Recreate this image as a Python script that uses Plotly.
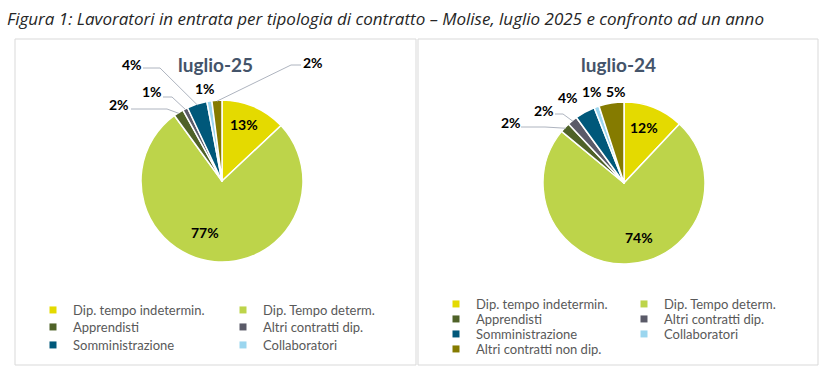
import math
import plotly.graph_objects as go

# ---------------- data ----------------
categories = ["Dip. tempo indetermin.", "Dip. Tempo determ.", "Apprendisti",
              "Altri contratti dip.", "Somministrazione", "Collaboratori",
              "Altri contratti non dip."]
values_2025 = [13, 77, 2, 1, 4, 1, 2]
values_2024 = [12, 74, 2, 2, 4, 1, 5]
title_2025 = "luglio-25"
title_2024 = "luglio-24"
fig_title = "Figura 1: Lavoratori in entrata per tipologia di contratto – Molise, luglio 2025 e confronto ad un anno"

# ---------------- style ----------------
colors = ["#E4DA00", "#BDD44A", "#4F6228", "#5A5A68", "#00587A", "#9BD6EF", "#857B00"]
W, H = 837, 383
FONT = "Lato"


def px(x):
    return x / W


def py(y):
    return 1 - y / H


# pie geometry (pixels): centre x, centre y, radius
pies = [
    dict(vals=values_2025, cx=222, cy=181, r=81, title=title_2025, tx=215, ty=65),
    dict(vals=values_2024, cx=624, cy=183, r=81, title=title_2024, tx=618, ty=65),
]

# data-label placement per slice index: (label x, label y, leader-line points or None)
labels_2025 = {
    0: (244, 124, None),
    1: (205, 232, None),
    2: (119, 104, [(131, 109), (167, 109)]),
    3: (152, 92, [(163, 97), (172, 97)]),
    4: (132, 65, [(143, 68), (160, 68)]),
    5: (205, 88, None),
    6: (313, 62, [(301, 65), (291, 65)]),
}
labels_2024 = {
    0: (644, 127, None),
    1: (639, 237, None),
    2: (511, 122, [(521, 127), (545, 127)]),
    3: (544, 110, [(555, 114), (563, 114)]),
    4: (568, 98, None),
    5: (592, 92, None),
    6: (616, 92, None),
}
label_layouts = [labels_2025, labels_2024]

fig = go.Figure()
annotations = []
shapes = []

# panel frames
for (x0, y0, x1, y1) in [(15, 39, 416, 365), (418, 39, 818, 365)]:
    shapes.append(dict(type="rect", xref="paper", yref="paper",
                       x0=px(x0), x1=px(x1), y0=py(y1), y1=py(y0),
                       line=dict(color="#D9D9D9", width=1), fillcolor="rgba(0,0,0,0)", layer="below"))

for p, labs in zip(pies, label_layouts):
    vals = p["vals"]
    total = sum(vals)
    fig.add_trace(go.Pie(
        labels=categories, values=vals, sort=False, direction="clockwise", rotation=0,
        marker=dict(colors=colors, line=dict(color="white", width=1.5)),
        textinfo="none",
        domain=dict(x=[px(p["cx"] - p["r"]), px(p["cx"] + p["r"])],
                    y=[py(p["cy"] + p["r"]), py(p["cy"] - p["r"])]),
        showlegend=False, hoverinfo="label+percent",
    ))
    annotations.append(dict(x=px(p["tx"]), y=py(p["ty"]), xref="paper", yref="paper",
                            xanchor="center", yanchor="middle",
                            text=f"<b>{p['title']}</b>", showarrow=False,
                            font=dict(family=FONT, size=19, color="#44546A")))
    cum = 0
    for i, v in enumerate(vals):
        mid = (cum + v / 2) / total * 2 * math.pi
        cum += v
        lx, ly, pts = labs[i]
        annotations.append(dict(x=px(lx), y=py(ly), xref="paper", yref="paper",
                                xanchor="center", yanchor="middle",
                                text=f"<b>{v}%</b>", showarrow=False,
                                font=dict(family=FONT, size=14, color="black")))
        if pts:
            ex = p["cx"] + (p["r"] - 1) * math.sin(mid)
            ey = p["cy"] - (p["r"] - 1) * math.cos(mid)
            allpts = pts + [(ex, ey)]
            path = "M " + " L ".join(f"{px(a)},{py(b)}" for a, b in allpts)
            shapes.append(dict(type="path", xref="paper", yref="paper", path=path,
                               line=dict(color="#AEB4BF", width=1)))

# legends: one legend object per entry for exact placement
legend_pos_2025 = [(59, 310), (249, 310), (59, 327), (249, 327), (59, 345), (249, 345)]
legend_pos_2024 = [(462, 304), (650, 304), (462, 319), (650, 319), (462, 334), (650, 334), (462, 349)]

legend_layouts = {}
n = 0
for vals_pos in [legend_pos_2025, legend_pos_2024]:
    for i, (mx, my) in enumerate(vals_pos):
        n += 1
        key = "legend" if n == 1 else f"legend{n}"
        fig.add_trace(go.Scatter(x=[None], y=[None], mode="markers", name=categories[i],
                                 marker=dict(symbol="square", size=7, color=colors[i]),
                                 legend=key, showlegend=True, hoverinfo="skip"))
        legend_layouts[key] = dict(x=px(mx - 26), y=py(my), xanchor="left", yanchor="middle",
                                   bgcolor="rgba(0,0,0,0)", borderwidth=0, itemwidth=30,
                                   font=dict(family=FONT, size=13, color="#595959"))

annotations.append(dict(x=px(5), y=py(18), xref="paper", yref="paper",
                        xanchor="left", yanchor="middle",
                        text=f"<i>{fig_title}</i>", showarrow=False,
                        font=dict(family="Open Sans", size=17, color="#262626")))

fig.update_layout(width=W, height=H, margin=dict(l=0, r=0, t=0, b=0),
                  template="none", paper_bgcolor="white", plot_bgcolor="white",
                  annotations=annotations, shapes=shapes,
                  xaxis=dict(visible=False), yaxis=dict(visible=False),
                  **legend_layouts)

fig.write_html("out.html", config={"displayModeBar": False},
               post_script="document.body.style.margin='0';")
